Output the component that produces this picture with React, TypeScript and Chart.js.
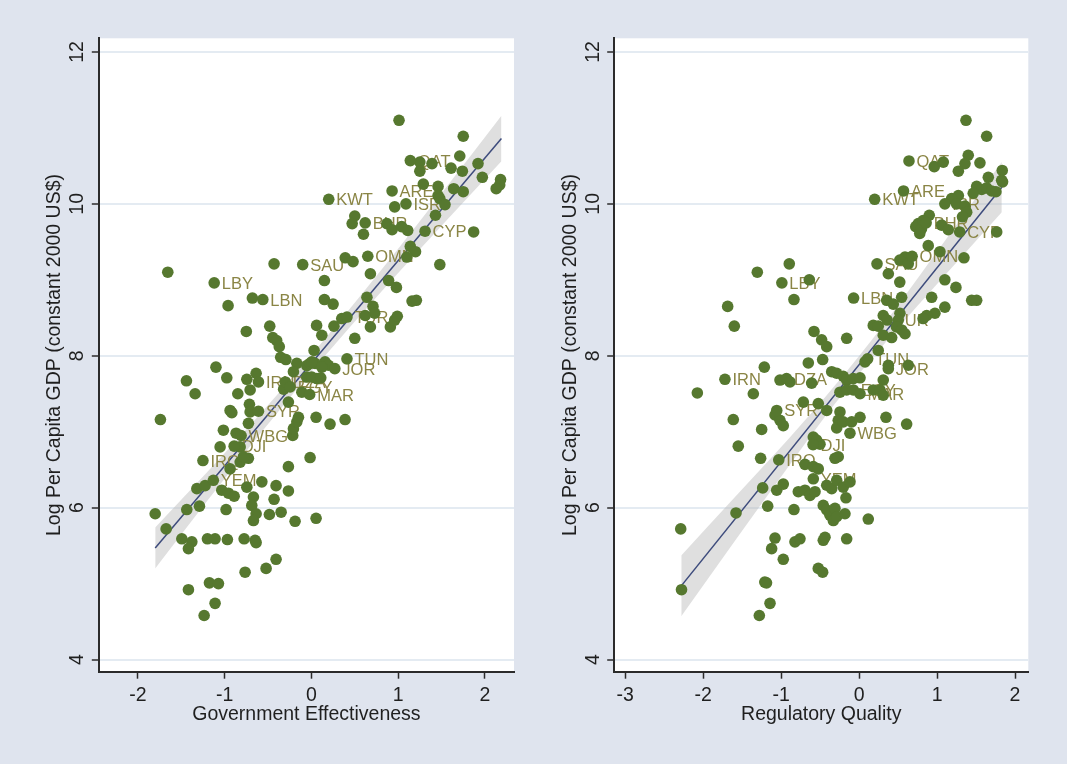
import React, { useEffect, useRef } from 'react';
import { Chart, registerables } from 'chart.js';

Chart.register(...registerables);

// ---------- shared axis data ----------
const yTickValues = [4, 6, 8, 10, 12];
const yMin = 3.84;
const yMax = 12.18;
const yAxisTitle = 'Log Per Capita GDP (constant 2000 US$)';

// ---------- left panel: Government Effectiveness ----------
const geXTicks = [-2, -1, 0, 1, 2];
const geXMin = -2.45;
const geXMax = 2.335;
const geXTitle = 'Government Effectiveness';

const geCodes = ['QAT', 'ARE', 'ISR', 'KWT', 'BHR', 'CYP', 'OMN', 'SAU', 'LBY', 'LBN', 'TUR', 'TUN', 'JOR', 'IRN', 'DZA', 'EGY', 'MAR', 'SYR', 'WBG', 'DJI', 'IRQ', 'YEM'];
const geCodeX = [1.14, 0.93, 1.09, 0.2, 0.62, 1.31, 0.65, -0.1, -1.12, -0.56, 0.41, 0.41, 0.27, -0.61, -0.3, -0.245, -0.02, -0.61, -0.81, -0.89, -1.25, -1.13];
const geCodeY = [10.57, 10.17, 10.0, 10.06, 9.75, 9.64, 9.31, 9.2, 8.96, 8.74, 8.51, 7.96, 7.83, 7.655, 7.655, 7.59, 7.49, 7.27, 6.95, 6.81, 6.62, 6.36];

const geOtherPoints = [
  [1.01, 11.1], [1.75, 10.89], [1.71, 10.63], [1.25, 10.55], [1.39, 10.53], [1.25, 10.43], [1.61, 10.47], [1.74, 10.43],
  [1.92, 10.53], [1.97, 10.35], [2.18, 10.32], [2.17, 10.25], [2.13, 10.2], [1.29, 10.26], [1.46, 10.23], [1.64, 10.2],
  [1.75, 10.16], [1.46, 10.11], [1.48, 10.07], [1.54, 9.99], [0.96, 9.96], [1.43, 9.85], [0.5, 9.84], [0.47, 9.74],
  [0.6, 9.6], [0.87, 9.74], [0.93, 9.66], [1.04, 9.7], [1.11, 9.65], [1.87, 9.63], [0.39, 9.29], [0.48, 9.24],
  [1.14, 9.44], [1.2, 9.37], [1.1, 9.3], [1.48, 9.2], [0.68, 9.08], [0.15, 8.99], [0.89, 8.99], [0.98, 8.9],
  [0.15, 8.74], [0.25, 8.68], [0.64, 8.77], [1.16, 8.72], [1.21, 8.73], [0.71, 8.65], [0.73, 8.56], [0.62, 8.53],
  [0.35, 8.49], [0.06, 8.4], [0.26, 8.39], [0.12, 8.27], [0.5, 8.23], [0.68, 8.38], [0.91, 8.38], [0.96, 8.47],
  [0.99, 8.52],
  [-1.655, 9.1], [-0.43, 9.21], [-0.96, 8.66], [-0.68, 8.76], [-0.75, 8.32], [-0.48, 8.39], [-0.445, 8.24], [-0.4, 8.2],
  [-0.37, 8.12], [-0.354, 7.98], [-0.294, 7.95],
  [0.031, 8.07], [-0.168, 7.9], [-0.053, 7.87], [-0.015, 7.9], [0.042, 7.9], [-0.207, 7.79], [-0.053, 7.72], [0.062, 7.7],
  [-0.32, 7.56], [-0.11, 7.52], [-0.265, 7.39], [0.005, 7.92], [0.158, 7.92], [0.196, 7.875], [0.12, 7.85], [0.005, 7.72],
  [0.108, 7.71], [0.215, 7.1], [0.388, 7.16],
  [-1.1, 7.85], [-1.44, 7.67], [-1.34, 7.5], [-1.74, 7.16], [-0.975, 7.71], [-0.744, 7.69], [-0.637, 7.77], [-0.706, 7.55],
  [-0.848, 7.5], [-0.937, 7.28], [-0.917, 7.25], [-0.714, 7.36], [-0.706, 7.26], [-1.014, 7.02], [-0.868, 6.98], [-0.726, 7.11],
  [-1.052, 6.8], [-0.821, 6.8], [-0.215, 6.95], [-0.207, 7.04], [-0.168, 7.13], [-0.149, 7.19], [0.054, 7.19], [-0.015, 6.66],
  [-0.265, 6.54], [-0.937, 6.51], [-0.821, 6.6], [-0.726, 6.65], [-0.783, 6.67], [-1.32, 6.25], [-1.225, 6.29], [-1.033, 6.23],
  [-0.956, 6.19], [-0.89, 6.15], [-0.744, 6.27], [-0.571, 6.34], [-0.407, 6.29], [-0.265, 6.22], [-0.668, 6.14], [-0.687, 6.03],
  [-0.637, 5.92], [-0.668, 5.83], [-0.43, 6.11], [-0.484, 5.91], [-0.349, 5.94], [-0.188, 5.82], [0.054, 5.86], [-0.983, 5.975],
  [-1.436, 5.975], [-1.29, 6.02], [-1.8, 5.92], [-1.674, 5.72], [-1.493, 5.59], [-1.378, 5.55], [-1.417, 5.46], [-1.198, 5.59],
  [-1.11, 5.59], [-0.968, 5.58], [-0.775, 5.59], [-0.649, 5.57], [-0.637, 5.54], [-0.407, 5.32], [-0.522, 5.2], [-0.764, 5.15],
  [-1.417, 4.92], [-1.175, 5.01], [-1.071, 5.0], [-1.11, 4.74], [-1.236, 4.58],
];

const geFitX = [-1.8, 2.19];
const geFitY = [5.47, 10.86];
const geBandX = [-1.8, -1.2, -0.6, 0.0, 0.6, 1.2, 1.8, 2.19];
const geBandLo = [5.2, 6.09, 6.96, 7.79, 8.58, 9.34, 10.08, 10.56];
const geBandHi = [5.74, 6.47, 7.22, 8.01, 8.84, 9.7, 10.58, 11.16];

// ---------- right panel: Regulatory Quality ----------
const rqXTicks = [-3, -2, -1, 0, 1, 2];
const rqXMin = -3.14;
const rqXMax = 2.17;
const rqXTitle = 'Regulatory Quality';

const rqCodes = ['QAT', 'ARE', 'KWT', 'ISR', 'BHR', 'CYP', 'OMN', 'SAU', 'LBN', 'LBY', 'TUR', 'TUN', 'JOR', 'IRN', 'DZA', 'EGY', 'MAR', 'SYR', 'WBG', 'DJI', 'IRQ', 'YEM'];
const rqCodeX = [0.64, 0.57, 0.2, 1.1, 0.86, 1.29, 0.68, 0.23, -0.07, -0.99, 0.36, 0.11, 0.375, -1.72, -0.93, -0.074, 0.012, -1.056, -0.117, -0.59, -1.03, -0.587];
const rqCodeY = [10.565, 10.17, 10.06, 10.0, 9.75, 9.63, 9.31, 9.21, 8.76, 8.96, 8.47, 7.96, 7.83, 7.69, 7.7, 7.55, 7.5, 7.28, 6.98, 6.83, 6.63, 6.38];

const rqOtherPoints = [
  [1.371, 11.1], [1.636, 10.89], [0.964, 10.49], [1.08, 10.55], [1.4, 10.64], [1.358, 10.53], [1.55, 10.54], [1.273, 10.43],
  [1.836, 10.44], [1.828, 10.31], [1.657, 10.35], [1.508, 10.23], [1.572, 10.19], [1.636, 10.21], [1.7, 10.17], [1.755, 10.16],
  [1.84, 10.29], [1.464, 10.14], [1.273, 10.11], [1.187, 10.07], [1.25, 10.0], [1.358, 9.97], [1.38, 9.89], [1.326, 9.83],
  [0.9, 9.85], [0.759, 9.74], [0.727, 9.7], [0.8, 9.67], [0.778, 9.61], [0.821, 9.78], [1.059, 9.72], [1.144, 9.66],
  [1.765, 9.63], [0.887, 9.45], [1.037, 9.37], [1.345, 9.29], [0.589, 9.3], [0.522, 9.26], [0.631, 9.21], [0.375, 9.08],
  [0.522, 8.97], [1.1, 9.0], [1.242, 8.9], [0.354, 8.73], [0.439, 8.68], [0.546, 8.77], [0.931, 8.77], [1.444, 8.73],
  [1.508, 8.73], [1.1, 8.64], [0.973, 8.56], [0.867, 8.53], [0.821, 8.49], [0.524, 8.56], [0.31, 8.53], [0.182, 8.4],
  [0.246, 8.39], [0.503, 8.47], [0.48, 8.38], [0.546, 8.34], [0.589, 8.29], [0.31, 8.27], [0.418, 8.24],
  [-1.305, 9.1], [-0.895, 9.21], [-0.638, 9.0], [-0.835, 8.74], [-1.685, 8.65], [-1.6, 8.39], [-0.578, 8.32], [-0.48, 8.21],
  [-0.415, 8.12], [-0.159, 8.23],
  [-1.215, 7.85], [-2.074, 7.51], [-1.356, 7.5], [-0.651, 7.905], [-0.467, 7.95], [-1.014, 7.68], [-0.886, 7.655], [-0.608, 7.64],
  [-0.351, 7.79], [-0.287, 7.77], [-0.203, 7.73], [-0.159, 7.68], [-0.245, 7.52], [-0.159, 7.55], [-0.715, 7.39], [-0.523, 7.37],
  [-0.415, 7.28], [-1.078, 7.22], [-1.014, 7.15], [-0.972, 7.08], [-1.613, 7.16], [-1.249, 7.03], [-0.245, 7.26], [-0.267, 7.15],
  [-0.287, 7.05], [-0.203, 7.13], [-1.549, 6.81], [-0.587, 6.93], [-0.544, 6.89], [-0.501, 6.835], [-0.309, 6.65], [-0.267, 6.67],
  [-1.262, 6.65], [-0.694, 6.57], [-0.587, 6.54], [-0.523, 6.51], [-1.236, 6.26], [-1.056, 6.23], [-0.972, 6.31], [-0.779, 6.21],
  [-0.694, 6.23], [-0.63, 6.16], [-0.565, 6.21], [-0.415, 6.295], [-0.351, 6.25], [-0.287, 6.36], [-0.203, 6.27], [-0.117, 6.34],
  [-1.578, 5.93], [-1.172, 6.02], [-0.835, 5.975], [-0.459, 6.03], [-0.415, 5.97], [-0.373, 5.9], [-0.33, 5.83], [-0.309, 5.99],
  [-0.287, 5.88], [-0.181, 5.92], [-2.287, 5.72], [-1.078, 5.6], [-1.121, 5.46], [-0.822, 5.55], [-0.758, 5.59], [-0.459, 5.57],
  [-0.437, 5.61], [-0.972, 5.32], [-0.523, 5.2], [-0.467, 5.15], [-1.209, 5.02], [-1.187, 5.01], [-1.142, 4.74], [-1.279, 4.58],
  [-2.277, 4.92], [-0.159, 5.59],
  [0.246, 8.07], [0.076, 7.92], [0.375, 7.875], [0.631, 7.875], [-0.074, 7.7], [0.012, 7.71], [0.31, 7.68], [0.182, 7.55],
  [0.268, 7.55], [0.31, 7.48], [-0.095, 7.13], [0.012, 7.19], [0.345, 7.19], [0.61, 7.1], [-0.168, 6.13], [0.118, 5.85],
];

const rqFitX = [-2.28, 1.83];
const rqFitY = [4.97, 10.22];
const rqBandX = [-2.28, -1.6, -0.9, -0.3, 0.3, 0.9, 1.4, 1.83];
const rqBandLo = [4.57, 5.55, 6.55, 7.38, 8.13, 8.83, 9.4, 9.89];
const rqBandHi = [5.37, 6.13, 6.91, 7.62, 8.39, 9.23, 9.94, 10.55];

// ---------- styling ----------
const FONT = "'Liberation Sans', Arial, Helvetica, sans-serif";
const TEXT = '#1f1f1f';
const AXIS = '#2b2b2b';
const GRID = '#E4EBF2';
const MARKER = '#56782F';
const LABEL = '#8A8545';
const PAGE_BG = '#DFE4EE';
const H = 764;

type PanelProps = {
  left: number;
  width: number;
  yAxisWidth: number;
  yTitlePad: number;
  padRight: number;
  xTicks: number[];
  xMin: number;
  xMax: number;
  xTitle: string;
  codes: string[];
  codeX: number[];
  codeY: number[];
  others: number[][];
  fitX: number[];
  fitY: number[];
  bandX: number[];
  bandLo: number[];
  bandHi: number[];
};

function Panel(p: PanelProps) {
  const ref = useRef<HTMLCanvasElement | null>(null);

  useEffect(() => {
    if (!ref.current) return;
    const decor = {
      id: 'decor',
      beforeDraw(chart: any) {
        const { ctx, chartArea: a } = chart;
        ctx.save();
        ctx.fillStyle = '#ffffff';
        ctx.fillRect(a.left, a.top, a.right - a.left, a.bottom - a.top);
        ctx.restore();
      },
      afterDatasetDraw(chart: any, args: any) {
        if (args.index !== 2) return;
        const { ctx } = chart;
        const xs = chart.scales.x;
        const ys = chart.scales.y;
        ctx.save();
        ctx.font = `16.5px ${FONT}`;
        ctx.fillStyle = LABEL;
        ctx.textAlign = 'left';
        ctx.textBaseline = 'middle';
        p.codes.forEach((c, i) => {
          const px = xs.getPixelForValue(p.codeX[i]);
          const py = ys.getPixelForValue(p.codeY[i]);
          ctx.fillText(c, px + 7.5, py + 1.5);
        });
        ctx.restore();
      },
      afterDraw(chart: any) {
        const { ctx, chartArea: a } = chart;
        const ys = chart.scales.y;
        ctx.save();
        ctx.font = `19.5px ${FONT}`;
        ctx.fillStyle = TEXT;
        ctx.textAlign = 'center';
        ctx.textBaseline = 'middle';
        ys.ticks.forEach((t: any) => {
          const py = ys.getPixelForValue(t.value);
          ctx.save();
          ctx.translate(a.left - 21, py);
          ctx.rotate(-Math.PI / 2);
          ctx.fillText(String(t.value), 0, 0);
          ctx.restore();
        });
        ctx.restore();
      },
    };

    const chart = new Chart(ref.current, {
      type: 'scatter',
      data: {
        datasets: [
          {
            label: 'named',
            data: p.codes.map((_, i) => ({ x: p.codeX[i], y: p.codeY[i] })),
            pointRadius: 5.8,
            pointBackgroundColor: MARKER,
            pointBorderWidth: 0,
            pointHoverRadius: 5.8,
          } as any,
          {
            label: 'others',
            data: p.others.map((d) => ({ x: d[0], y: d[1] })),
            pointRadius: 5.8,
            pointBackgroundColor: MARKER,
            pointBorderWidth: 0,
            pointHoverRadius: 5.8,
          } as any,
          {
            type: 'line',
            label: 'fit',
            data: p.fitX.map((x, i) => ({ x, y: p.fitY[i] })),
            borderColor: '#3D4B7C',
            borderWidth: 1.5,
            pointRadius: 0,
            fill: false,
          } as any,
          {
            type: 'line',
            label: 'bandLo',
            data: p.bandX.map((x, i) => ({ x, y: p.bandLo[i] })),
            borderWidth: 0,
            borderColor: 'rgba(0,0,0,0)',
            pointRadius: 0,
            cubicInterpolationMode: 'monotone',
            fill: false,
          } as any,
          {
            type: 'line',
            label: 'bandHi',
            data: p.bandX.map((x, i) => ({ x, y: p.bandHi[i] })),
            borderWidth: 0,
            borderColor: 'rgba(0,0,0,0)',
            pointRadius: 0,
            cubicInterpolationMode: 'monotone',
            backgroundColor: 'rgba(185,185,185,0.45)',
            fill: '-1',
          } as any,
        ],
      },
      options: {
        responsive: false,
        animation: false,
        events: [],
        layout: { padding: { left: 0, top: 38.3, right: p.padRight, bottom: 0 } },
        plugins: {
          legend: { display: false },
          tooltip: { enabled: false },
          title: { display: false },
        },
        scales: {
          x: {
            type: 'linear',
            min: p.xMin,
            max: p.xMax,
            afterBuildTicks: (s: any) => {
              s.ticks = p.xTicks.map((v) => ({ value: v }));
            },
            afterFit: (s: any) => {
              s.height = 92.3;
            },
            grid: {
              drawOnChartArea: false,
              drawTicks: true,
              tickLength: 7,
              tickColor: AXIS,
              tickWidth: 1.5,
            },
            border: { display: true, color: AXIS, width: 2 },
            ticks: {
              font: { family: FONT, size: 19.5 },
              color: TEXT,
              padding: 5.6,
              maxRotation: 0,
              minRotation: 0,
              autoSkip: false,
            },
            title: {
              display: true,
              text: p.xTitle,
              font: { family: FONT, size: 19.5 },
              color: TEXT,
              padding: { top: 0, bottom: 37.5 },
            },
          },
          y: {
            type: 'linear',
            min: yMin,
            max: yMax,
            afterBuildTicks: (s: any) => {
              s.ticks = yTickValues.map((v) => ({ value: v }));
            },
            afterFit: (s: any) => {
              s.width = p.yAxisWidth;
            },
            grid: {
              drawOnChartArea: true,
              color: GRID,
              lineWidth: 2,
              drawTicks: true,
              tickLength: 7,
              tickColor: AXIS,
              tickWidth: 1.5,
            },
            border: { display: true, color: AXIS, width: 2 },
            ticks: { display: false },
            title: {
              display: true,
              text: yAxisTitle,
              font: { family: FONT, size: 19.5 },
              color: TEXT,
              padding: { top: p.yTitlePad, bottom: 0 },
            },
          },
        },
      },
      plugins: [decor],
    } as any);

    return () => chart.destroy();
  }, []);

  return (
    <canvas
      ref={ref}
      width={p.width}
      height={H}
      style={{ position: 'absolute', left: p.left, top: 0, width: p.width, height: H }}
    />
  );
}

export default function App() {
  return (
    <div
      style={{
        position: 'absolute',
        left: 0,
        top: 0,
        width: 1067,
        height: H,
        background: PAGE_BG,
        overflow: 'hidden',
      }}
    >
      <Panel
        left={0}
        width={533}
        yAxisWidth={98.8}
        yTitlePad={43.3}
        padRight={19}
        xTicks={geXTicks}
        xMin={geXMin}
        xMax={geXMax}
        xTitle={geXTitle}
        codes={geCodes}
        codeX={geCodeX}
        codeY={geCodeY}
        others={geOtherPoints}
        fitX={geFitX}
        fitY={geFitY}
        bandX={geBandX}
        bandLo={geBandLo}
        bandHi={geBandHi}
      />
      <Panel
        left={533}
        width={534}
        yAxisWidth={81.2}
        yTitlePad={25.8}
        padRight={38.7}
        xTicks={rqXTicks}
        xMin={rqXMin}
        xMax={rqXMax}
        xTitle={rqXTitle}
        codes={rqCodes}
        codeX={rqCodeX}
        codeY={rqCodeY}
        others={rqOtherPoints}
        fitX={rqFitX}
        fitY={rqFitY}
        bandX={rqBandX}
        bandLo={rqBandLo}
        bandHi={rqBandHi}
      />
    </div>
  );
}
